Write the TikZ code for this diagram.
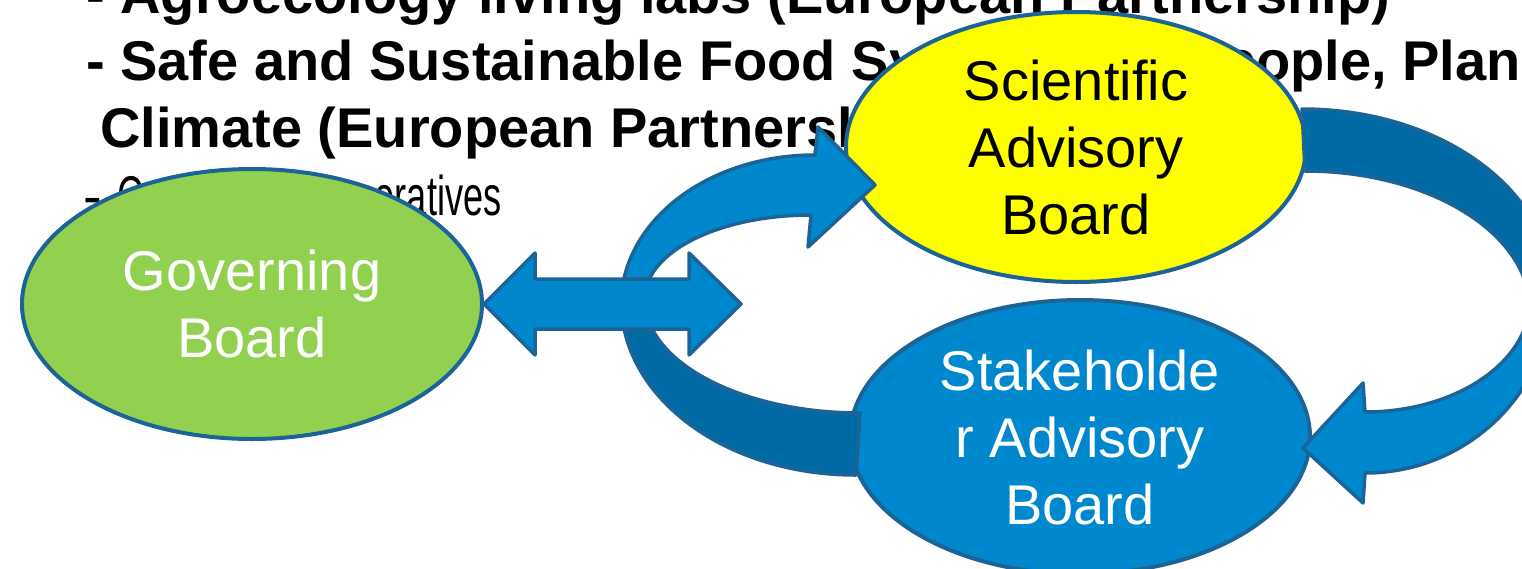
\documentclass[tikz,border=0pt]{standalone}
\usepackage{fontspec}
\setmainfont{Liberation Sans}
\usetikzlibrary{shapes.geometric}

\definecolor{gbgreen}{HTML}{92D050}
\definecolor{sabyellow}{HTML}{FFFF00}
\definecolor{bandlight}{HTML}{0088CF}
\definecolor{banddark}{HTML}{006AA5}
\definecolor{rim}{HTML}{1B6495}

\begin{document}
\begin{tikzpicture}[x=1pt, y=-1pt, line join=round]
    % Styles
    \tikzstyle{bullet} = [anchor=base west, inner sep=0pt, font=\fontsize{56}{67}\selectfont\bfseries]
    \tikzstyle{bullet_plain} = [anchor=base west, inner sep=0pt, font=\fontsize{56}{67}\selectfont]
    \tikzstyle{board} = [ellipse, draw=rim, line width=4pt, minimum width=460pt, minimum height=270pt, inner sep=0pt, align=center, font=\fontsize{56}{67}\selectfont]
    \tikzstyle{band_light} = [fill=bandlight, draw=rim, line width=3.5pt]
    \tikzstyle{band_dark} = [fill=banddark, draw=rim, line width=3.5pt]

    \useasboundingbox (0,0) rectangle (1522,568);
    \clip (0,0) rectangle (1522,568);

    % Slide text behind the boards
    \node [bullet] (l1) at (86,13) {- Agroecology living labs (European Partnership)};
    \node [bullet] (l2) at (86,80) {- Safe and Sustainable Food Systems for People, Planet \&};
    \node [bullet] (l3) at (100,147) {Climate (European Partnership)};
    \node [bullet_plain] (l4) at (83,215) {- \scalebox{0.646}[1]{Co-funded cooperatives}};

    % Boards
    \node [board, fill=gbgreen, text=white] (gb) at (252,304) {Governing\\Board};
    \node [board, fill=sabyellow, text=black] (sci) at (1076,147) {Scientific\\Advisory\\Board};
    \node [board, fill=bandlight, text=white, minimum height=274pt] (stk) at (1080,437) {Stakeholde\\r Advisory\\Board};

    % Left loop: Stakeholder -> Scientific
    \draw [band_dark] (621,300) .. controls (621,399) and (727,475) .. (856,475)
        -- (860,413) .. controls (741,413) and (645,362) .. (645,300) -- cycle;
    \draw [band_light] (621,305) .. controls (621,222) and (707,155) .. (815,155)
        -- (818,127) -- (875,185) -- (808,247) -- (811,215)
        .. controls (719,215) and (645,252) .. (645,298) -- cycle;

    % Right loop: Scientific -> Stakeholder
    \draw [band_dark] (1302,109) .. controls (1440,109) and (1552,190) .. (1552,290)
        -- (1530,310) .. controls (1530,233) and (1429,171) .. (1305,171) -- cycle;
    \draw [band_light] (1552,290) .. controls (1552,391) and (1468,473) .. (1365,473)
        -- (1363,503) -- (1303,448) -- (1363,383) -- (1365,412)
        .. controls (1456,412) and (1530,362) .. (1530,300) -- cycle;

    % Governing <-> advisory boards
    \draw [band_light] (gb.east) -- ++(51,-51) -- ++(0,26) -- ++(154,0) -- ++(0,-26)
        -- ++(52,51) -- ++(-52,51) -- ++(0,-26) -- ++(-154,0) -- ++(0,26) -- cycle;

\end{tikzpicture}
\end{document}
